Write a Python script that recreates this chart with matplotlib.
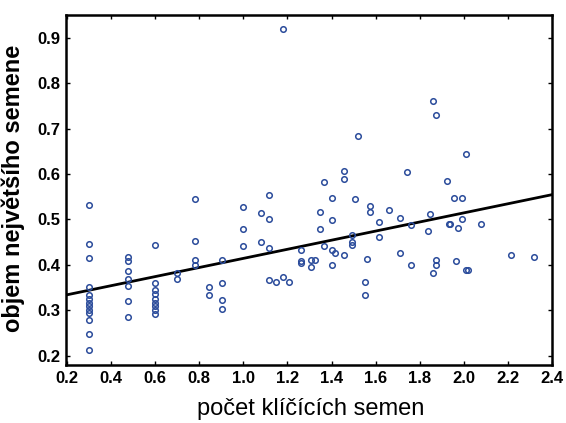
import matplotlib
matplotlib.use('Agg')
import matplotlib.pyplot as plt
import numpy as np

# x groups (pocet klicicich semen) and the y values observed at each x
groups = [
    (0.3, [0.531, 0.446, 0.415, 0.352, 0.334, 0.325, 0.317, 0.31, 0.3, 0.295, 0.278, 0.248, 0.212]),
    (0.475, [0.417, 0.409, 0.386, 0.369, 0.354, 0.321, 0.285]),
    (0.6, [0.444, 0.361, 0.345, 0.336, 0.325, 0.317, 0.31, 0.301, 0.292]),
    (0.7, [0.383, 0.370]),
    (0.78, [0.545, 0.452, 0.411, 0.4]),
    (0.845, [0.352, 0.334]),
    (0.903, [0.41, 0.361, 0.322, 0.304]),
    (1.0, [0.528, 0.479, 0.441]),
    (1.08, [0.515, 0.45]),
    (1.115, [0.553, 0.502, 0.437, 0.366]),
    (1.15, [0.362]),
    (1.178, [0.919, 0.373]),
    (1.208, [0.362]),
    (1.26, [0.432, 0.408, 0.404]),
    (1.305, [0.41, 0.396]),
    (1.325, [0.411]),
    (1.35, [0.516, 0.479]),
    (1.367, [0.582, 0.441]),
    (1.4, [0.547, 0.498, 0.433, 0.4]),
    (1.418, [0.427]),
    (1.455, [0.606, 0.588, 0.421]),
    (1.495, [0.466, 0.45, 0.443]),
    (1.508, [0.544]),
    (1.518, [0.684]),
    (1.55, [0.362, 0.335]),
    (1.562, [0.413]),
    (1.573, [0.529, 0.516]),
    (1.615, [0.495, 0.462]),
    (1.66, [0.521]),
    (1.713, [0.504, 0.427]),
    (1.743, [0.605]),
    (1.763, [0.488, 0.4]),
    (1.836, [0.474]),
    (1.846, [0.513]),
    (1.86, [0.76, 0.382]),
    (1.875, [0.73, 0.411, 0.401]),
    (1.922, [0.585]),
    (1.932, [0.489]),
    (1.94, [0.489]),
    (1.955, [0.548]),
    (1.966, [0.408]),
    (1.975, [0.481]),
    (1.99, [0.548, 0.5]),
    (2.01, [0.644, 0.388]),
    (2.02, [0.388]),
    (2.08, [0.489]),
    (2.215, [0.423]),
    (2.32, [0.418]),
]

# regression line coefficients
intercept = 0.3145
slope = 0.1

x_ticks = [0.2, 0.4, 0.6, 0.8, 1.0, 1.2, 1.4, 1.6, 1.8, 2.0, 2.2, 2.4]
y_ticks = [0.2, 0.3, 0.4, 0.5, 0.6, 0.7, 0.8, 0.9]

x_vals = []
y_vals = []
for gx, ys in groups:
    for gy in ys:
        x_vals.append(gx)
        y_vals.append(gy)

plt.rcParams['font.family'] = ['Liberation Sans', 'DejaVu Sans']

fig = plt.figure(figsize=(5.66, 4.23), dpi=100)
ax = fig.add_axes([0.1166, 0.137, 0.8584, 0.828])

ax.plot(x_vals, y_vals, 'o', markersize=4, markerfacecolor='none',
        markeredgecolor='#2b4c9b', markeredgewidth=1.1, zorder=3)

line_x = np.array([0.195, 2.4])
ax.plot(line_x, intercept + slope * line_x, color='black', linewidth=2, zorder=2)

ax.set_xlim(0.195, 2.4)
ax.set_ylim(0.18, 0.95)
ax.set_xticks(x_ticks)
ax.set_yticks(y_ticks)
ax.set_xticklabels(['%.1f' % v for v in x_ticks], fontsize=12, fontweight='bold')
ax.set_yticklabels(['%.1f' % v for v in y_ticks], fontsize=12, fontweight='bold')
ax.tick_params(direction='in', length=3, width=1, top=True, right=True, pad=4)

for s in ax.spines.values():
    s.set_linewidth(1.8)

ax.set_xlabel('počet klíčících semen', fontsize=17)
ax.set_ylabel('objem největšího semene', fontsize=17, fontweight='bold')
ax.yaxis.set_label_coords(-0.084, 0.505)
ax.xaxis.set_label_coords(0.503, -0.095)

fig.savefig('out.png', dpi=100)
